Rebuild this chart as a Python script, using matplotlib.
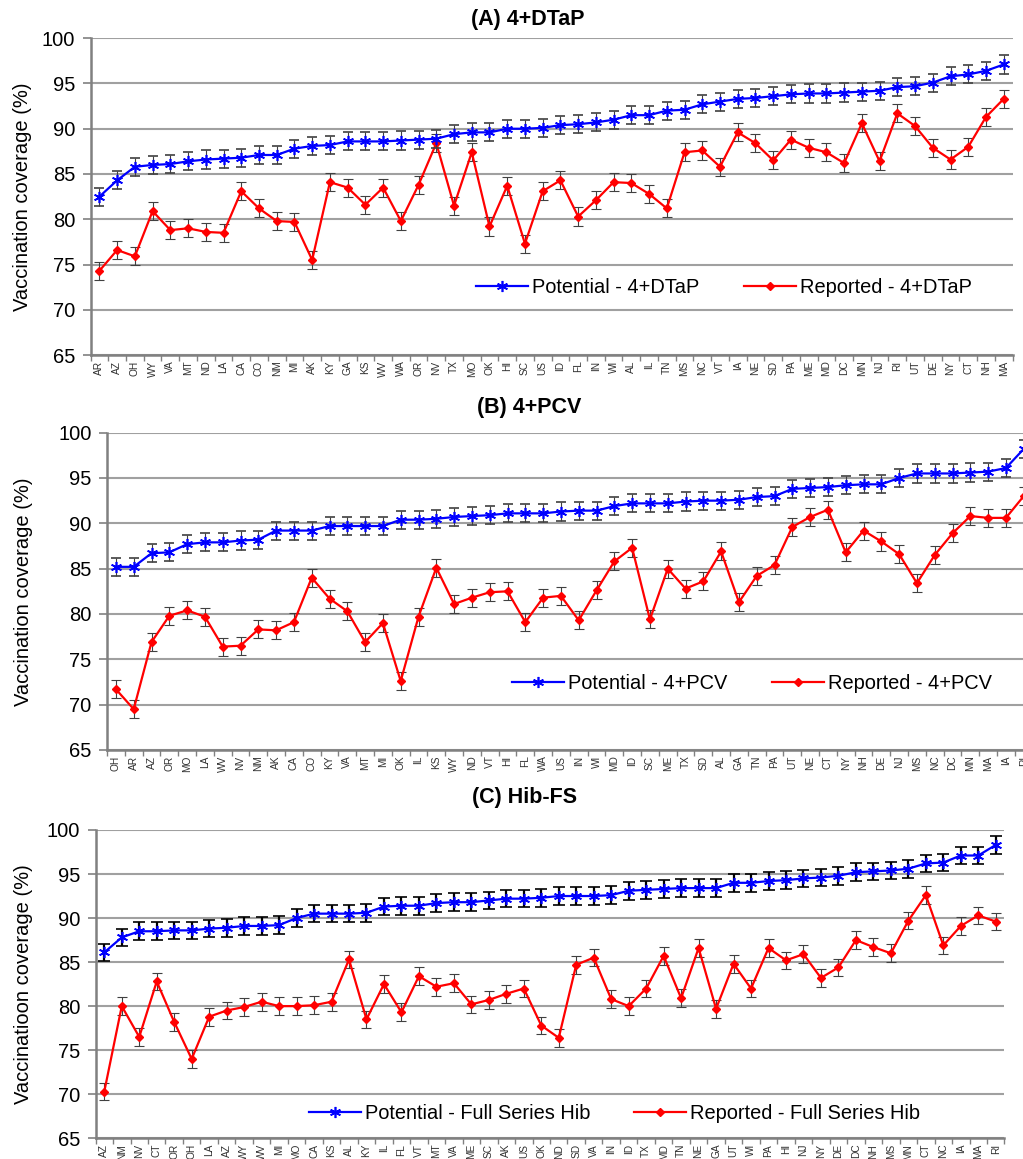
import matplotlib
matplotlib.use("Agg")
import matplotlib.pyplot as plt
from matplotlib.lines import Line2D
import numpy as np

plt.rcParams['font.family'] = ['Liberation Sans', 'DejaVu Sans']

# (A) 4+DTaP
states_a = ['AR', 'AZ', 'OH', 'WY', 'VA', 'MT', 'ND', 'LA', 'CA', 'CO', 'NM', 'MI', 'AK',
            'KY', 'GA', 'KS', 'WV', 'WA', 'OR', 'NV', 'TX', 'MO', 'OK', 'HI', 'SC', 'US',
            'ID', 'FL', 'IN', 'WI', 'AL', 'IL', 'TN', 'MS', 'NC', 'VT', 'IA', 'NE', 'SD',
            'PA', 'ME', 'MD', 'DC', 'MN', 'NJ', 'RI', 'UT', 'DE', 'NY', 'CT', 'NH', 'MA']
potential_a = [82.5, 84.3, 85.8, 86.0, 86.1, 86.4, 86.6, 86.7, 86.8, 87.1, 87.1, 87.8, 88.1,
               88.2, 88.6, 88.6, 88.6, 88.7, 88.8, 88.9, 89.4, 89.6, 89.6, 90.0, 90.0, 90.1,
               90.4, 90.5, 90.7, 91.0, 91.5, 91.5, 92.0, 92.1, 92.7, 93.0, 93.3, 93.4, 93.6,
               93.8, 93.9, 93.9, 94.0, 94.1, 94.2, 94.6, 94.7, 95.1, 95.8, 96.0, 96.4, 97.1]
reported_a = [74.3, 76.6, 75.9, 80.9, 78.8, 79.0, 78.6, 78.5, 83.1, 81.2, 79.8, 79.7, 75.5,
              84.1, 83.5, 81.6, 83.5, 79.8, 83.8, 88.4, 81.5, 87.4, 79.2, 83.7, 77.3, 83.1,
              84.3, 80.3, 82.1, 84.1, 84.0, 82.8, 81.2, 87.4, 87.6, 85.8, 89.6, 88.4, 86.5,
              88.8, 87.9, 87.4, 86.2, 90.6, 86.4, 91.7, 90.3, 87.9, 86.6, 88.0, 91.3, 93.3]

# (B) 4+PCV
states_b = ['OH', 'AR', 'AZ', 'OR', 'MO', 'LA', 'WV', 'NV', 'NM', 'AK', 'CA', 'CO', 'KY',
            'VA', 'MT', 'MI', 'OK', 'IL', 'KS', 'WY', 'ND', 'VT', 'HI', 'FL', 'WA', 'US',
            'IN', 'WI', 'MD', 'ID', 'SC', 'ME', 'TX', 'SD', 'AL', 'GA', 'TN', 'PA', 'UT',
            'NE', 'CT', 'NY', 'NH', 'DE', 'NJ', 'MS', 'NC', 'DC', 'MN', 'MA', 'IA', 'RI']
potential_b = [85.2, 85.2, 86.7, 86.8, 87.7, 87.9, 87.9, 88.1, 88.2, 89.2, 89.2, 89.2, 89.7,
               89.7, 89.7, 89.7, 90.4, 90.4, 90.5, 90.7, 90.8, 90.9, 91.1, 91.1, 91.1, 91.3,
               91.4, 91.4, 91.9, 92.2, 92.2, 92.2, 92.4, 92.5, 92.5, 92.6, 92.9, 93.0, 93.8,
               93.9, 94.0, 94.2, 94.3, 94.3, 95.0, 95.5, 95.5, 95.5, 95.6, 95.7, 96.1, 98.2]
reported_b = [71.7, 69.5, 76.9, 79.8, 80.4, 79.7, 76.4, 76.5, 78.3, 78.2, 79.1, 84.0, 81.7,
              80.3, 76.9, 79.0, 72.6, 79.7, 85.1, 81.1, 81.8, 82.4, 82.5, 79.1, 81.8, 82.0,
              79.3, 82.6, 85.8, 87.3, 79.4, 85.0, 82.8, 83.6, 86.9, 81.3, 84.2, 85.4, 89.6,
              90.7, 91.5, 86.8, 89.2, 88.0, 86.6, 83.4, 86.5, 88.9, 90.8, 90.6, 90.6, 93.0]

# (C) Hib-FS
states_c = ['AZ', 'NM', 'NV', 'CT', 'OR', 'OH', 'LA', 'AZ', 'WY', 'WV', 'MI', 'MO', 'CA',
            'KS', 'AL', 'KY', 'IL', 'FL', 'VT', 'MT', 'VA', 'ME', 'SC', 'AK', 'US', 'OK',
            'ND', 'SD', 'VA', 'IN', 'ID', 'TX', 'MD', 'TN', 'NE', 'GA', 'UT', 'WI', 'PA',
            'HI', 'NJ', 'NY', 'DE', 'DC', 'NH', 'MS', 'MN', 'CT', 'NC', 'IA', 'MA', 'RI']
potential_c = [86.1, 87.8, 88.5, 88.5, 88.6, 88.6, 88.8, 88.9, 89.1, 89.1, 89.2, 90.0, 90.5,
               90.5, 90.5, 90.6, 91.3, 91.4, 91.4, 91.7, 91.8, 91.8, 92.0, 92.2, 92.2, 92.3,
               92.5, 92.5, 92.5, 92.6, 93.1, 93.2, 93.3, 93.4, 93.4, 93.4, 94.0, 94.0, 94.2,
               94.3, 94.5, 94.6, 94.8, 95.2, 95.3, 95.4, 95.6, 96.2, 96.3, 97.1, 97.1, 98.3]
reported_c = [70.3, 80.0, 76.5, 82.8, 78.2, 74.0, 78.8, 79.5, 79.9, 80.5, 80.0, 80.0, 80.1,
              80.5, 85.3, 78.5, 82.5, 79.3, 83.4, 82.2, 82.6, 80.2, 80.7, 81.4, 82.0, 77.8,
              76.4, 84.7, 85.5, 80.8, 80.0, 82.0, 85.7, 80.9, 86.6, 79.7, 84.8, 82.0, 86.6,
              85.2, 85.9, 83.2, 84.4, 87.5, 86.7, 86.0, 89.7, 92.6, 86.9, 89.1, 90.3, 89.6]

err = 1.0
grid_col = '#a0a0a0'
star = (6, 2, 0)


def painel(fig, rect, states, pot, rep, nome, ylabel, ylab_x, legpos, pot_bar_black=False):
    ax = fig.add_axes(rect)
    x = np.arange(len(states))
    if pot_bar_black:
        eb = dict(ecolor='black', elinewidth=1.6, capsize=4, capthick=1.6)
    else:
        eb = dict(ecolor='#404040', elinewidth=0.8, capsize=3.5, capthick=0.8)
    ax.errorbar(x, pot, yerr=err, color='#0000ff', lw=1.6, marker=star, ms=8, mew=1.2,
                zorder=4, **eb)
    ax.errorbar(x, rep, yerr=err, color='#ff0000', lw=1.6, marker='D', ms=4.5,
                ecolor='#404040', elinewidth=0.8, capsize=3.5, capthick=0.8, zorder=3)

    ax.set_xlim(-0.5, len(states) - 0.5)
    ax.set_ylim(65, 100)
    ax.set_yticks(range(65, 101, 5))
    ax.set_xticks(x)
    ax.set_xticklabels(states, rotation=90, fontsize=7.3, color='#303030')
    ax.set_xticks(np.arange(-0.5, len(states), 1), minor=True)
    ax.tick_params(axis='x', which='major', length=0, pad=4)
    ax.tick_params(axis='x', which='minor', length=4, color='#808080', width=1)
    ax.tick_params(axis='y', labelsize=14.5, length=6, color='#808080', width=1.2, pad=5)
    ax.grid(axis='y', color=grid_col, lw=1.5)
    ax.set_axisbelow(True)
    for s in ['top', 'right']:
        ax.spines[s].set_visible(False)
    for s in ['left', 'bottom']:
        ax.spines[s].set_color('#808080')
        ax.spines[s].set_linewidth(1.8)
    ax.set_ylabel(ylabel, fontsize=14.5)
    ax.yaxis.set_label_coords(ylab_x, 0.5)

    handles = [Line2D([], [], color='#0000ff', lw=1.6, marker=star, ms=8, mew=1.2),
               Line2D([], [], color='#ff0000', lw=1.6, marker='D', ms=4.5)]
    labels = ['Potential - ' + nome, 'Reported - ' + nome]
    ax.legend(handles, labels, loc='center', bbox_to_anchor=legpos, ncol=2, frameon=False,
              fontsize=14.4, handlelength=2.6, columnspacing=2.2, handletextpad=0.2)
    return ax


fig = plt.figure(figsize=(10.23, 11.59), dpi=100)

painel(fig, [0.0885, 0.6937, 0.9013, 0.2733], states_a, potential_a, reported_a,
       '4+DTaP', 'Vaccination coverage (%)', -0.063, (0.687, 0.212))
painel(fig, [0.1046, 0.3529, 0.9048, 0.2738], states_b, potential_b, reported_b,
       '4+PCV', 'Vaccination coverage (%)', -0.080, (0.697, 0.211))
painel(fig, [0.0934, 0.0179, 0.8885, 0.266], states_c, potential_c, reported_c,
       'Full Series Hib', 'Vaccinatioon coverage (%)', -0.069, (0.571, 0.079),
       pot_bar_black=True)

fig.text(528 / 1023, 1 - 19 / 1159, '(A) 4+DTaP', ha='center', va='center', fontsize=15.5,
         fontweight='bold')
fig.text(529 / 1023, 1 - 408 / 1159, '(B) 4+PCV', ha='center', va='center', fontsize=15.5,
         fontweight='bold')
fig.text(525 / 1023, 1 - 797 / 1159, '(C) Hib-FS', ha='center', va='center', fontsize=15.5,
         fontweight='bold')

fig.savefig('out.png', dpi=100)
